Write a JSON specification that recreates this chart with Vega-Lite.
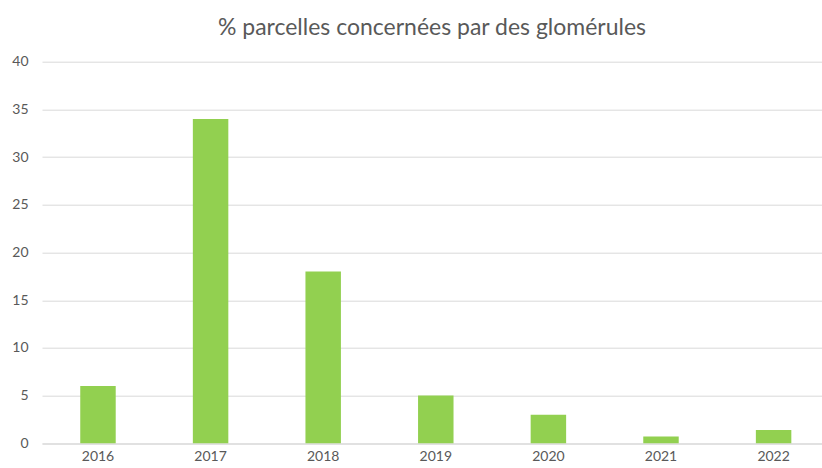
{
  "$schema": "https://vega.github.io/schema/vega-lite/v6.json",
  "autosize": "none",
  "width": 780,
  "height": 381.6,
  "padding": {"left": 42, "top": 61.7, "right": 0, "bottom": 23},
  "background": "white",
  "title": {
    "text": "% parcelles concernées par des glomérules",
    "font": "Lato",
    "fontSize": 23,
    "fontWeight": "normal",
    "color": "#595959",
    "anchor": "middle",
    "offset": 15
  },
  "data": {
    "values": [
      {"annee": "2016", "pct": 6},
      {"annee": "2017", "pct": 34},
      {"annee": "2018", "pct": 18},
      {"annee": "2019", "pct": 5},
      {"annee": "2020", "pct": 3},
      {"annee": "2021", "pct": 0.7},
      {"annee": "2022", "pct": 1.4}
    ]
  },
  "mark": {"type": "bar", "color": "#92D050"},
  "encoding": {
    "x": {
      "field": "annee",
      "type": "nominal",
      "sort": null,
      "scale": {"paddingInner": 0.685, "paddingOuter": 0.306, "align": 0.555},
      "axis": {
        "title": null,
        "labelAngle": 0,
        "labelFont": "Lato",
        "labelFontSize": 14,
        "labelColor": "#595959",
        "labelPadding": 6,
        "ticks": false,
        "domainColor": "#d9d9d9",
        "domainWidth": 1
      }
    },
    "y": {
      "field": "pct",
      "type": "quantitative",
      "scale": {"domain": [0, 40], "nice": false},
      "axis": {
        "title": null,
        "values": [0, 5, 10, 15, 20, 25, 30, 35, 40],
        "labelFont": "Lato",
        "labelFontSize": 14,
        "labelColor": "#595959",
        "labelPadding": 14,
        "ticks": false,
        "domain": false,
        "grid": true,
        "gridColor": "#d9d9d9",
        "gridWidth": 1
      }
    }
  },
  "config": {"view": {"stroke": null}}
}
